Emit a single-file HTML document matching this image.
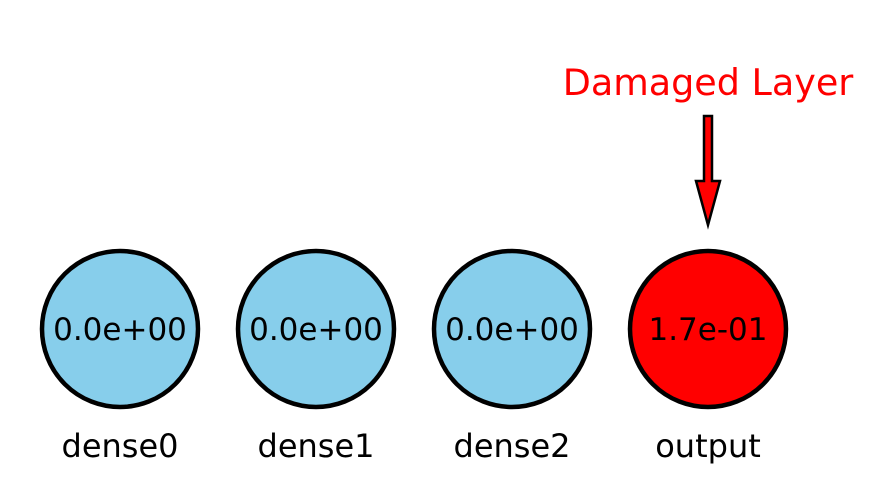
<!DOCTYPE html>
<html><head><style>body{margin:0;background:#fff}</style></head><body>
<svg width="871" height="481" xmlns="http://www.w3.org/2000/svg" font-family="DejaVu Sans, sans-serif">
<rect width="871" height="481" fill="#fff"/>
<g stroke="#000" stroke-width="4.5">
<circle cx="120" cy="329" r="78" fill="#87ceeb"/>
<circle cx="316" cy="329" r="78" fill="#87ceeb"/>
<circle cx="512" cy="329" r="78" fill="#87ceeb"/>
<circle cx="708" cy="329" r="78" fill="#ff0000"/>
</g>
<g font-size="31" text-anchor="middle" fill="#000">
<text x="120" y="340">0.0e+00</text>
<text x="316" y="340">0.0e+00</text>
<text x="512" y="340">0.0e+00</text>
<text x="708" y="340">1.7e-01</text>
</g>
<g font-size="32" text-anchor="middle" fill="#000">
<text x="120" y="457">dense0</text>
<text x="316" y="457">dense1</text>
<text x="512" y="457">dense2</text>
<text x="708" y="457">output</text>
</g>
<text x="708" y="95" font-size="36.5" text-anchor="middle" fill="#ff0000">Damaged Layer</text>
<polygon points="704,116 712,116 712,181 720,181 708,225 696,181 704,181" fill="#ff0000" stroke="#000" stroke-width="2.5" stroke-linejoin="miter"/>
</svg>
</body></html>
